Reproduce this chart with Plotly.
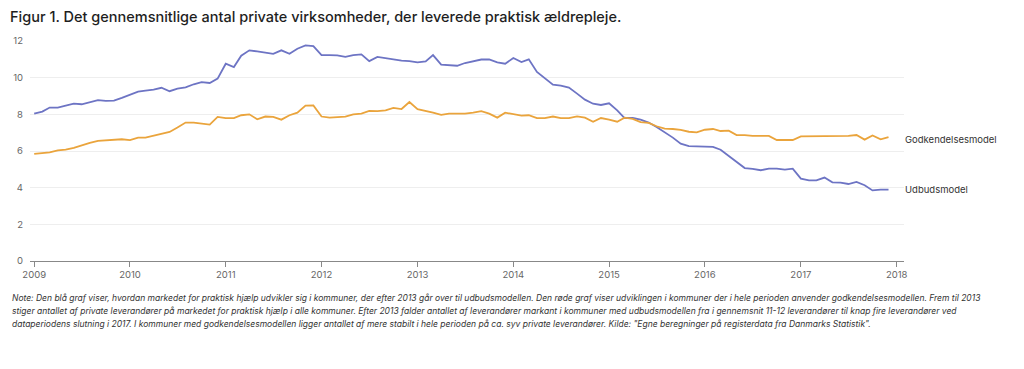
import pandas as pd
import plotly.graph_objects as go

dates = pd.date_range("2009-01-01", "2017-12-01", freq="MS")

udbud = [
    8.04, 8.15, 8.37, 8.37, 8.47, 8.58, 8.55, 8.67, 8.77, 8.73, 8.75, 8.90,
    9.05, 9.24, 9.29, 9.35, 9.45, 9.26, 9.40, 9.47, 9.64, 9.76, 9.71, 9.95,
    10.76, 10.58, 11.20, 11.49, 11.43, 11.38, 11.30, 11.49, 11.30, 11.58, 11.76, 11.72,
    11.23, 11.23, 11.22, 11.13, 11.23, 11.27, 10.90, 11.13, 11.05, 10.98, 10.93, 10.90,
    10.83, 10.89, 11.23, 10.71, 10.69, 10.65, 10.80, 10.90, 10.99, 10.99, 10.83, 10.76,
    11.07, 10.85, 11.00, 10.31, 9.95, 9.62, 9.56, 9.46, 9.13, 8.80, 8.58, 8.51,
    8.60, 8.22, 7.80, 7.80, 7.71, 7.55, 7.31, 7.04, 6.73, 6.40, 6.27, 6.25,
    6.22, 6.22, 6.07, 5.73, 5.42, 5.07, 5.02, 4.95, 5.04, 5.04, 4.98, 5.04,
    4.49, 4.40, 4.40, 4.55, 4.29, 4.27, 4.20, 4.31, 4.13, 3.85, 3.89, 3.89,
]

godkend = [
    5.84, 5.88, 5.93, 6.04, 6.08, 6.17, 6.32, 6.44, 6.55, 6.59, 6.61, 6.64,
    6.59, 6.73, 6.73, 6.84, 6.91, 7.04, 7.28, 7.55, 7.55, 7.51, 7.44, 7.86,
    7.79, 7.79, 7.95, 8.00, 7.73, 7.88, 7.86, 7.71, 7.95, 8.09, 8.48, 8.49,
    7.88, 7.82, 7.84, 7.88, 8.00, 8.04, 8.19, 8.17, 8.22, 8.35, 8.29, 8.67,
    8.28, 8.20, 8.09, 7.97, 8.04, 8.04, 8.04, 8.09, 8.17, 8.04, 7.82, 8.09,
    8.00, 7.93, 7.95, 7.79, 7.79, 7.88, 7.79, 7.79, 7.89, 7.82, 7.59, 7.80,
    7.71, 7.60, 7.82, 7.75, 7.58, 7.53, 7.35, 7.22, 7.20, 7.15, 7.05, 7.02,
    7.16, 7.20, 7.09, 7.11, 6.87, 6.87, 6.82, 6.82, 6.82, 6.60, 6.60, 6.60,
    6.80, 6.80, 6.80, 6.82, 6.82, 6.82, 6.82, 6.87, 6.62, 6.85, 6.64, 6.76,
]

series_names = ["Udbudsmodel", "Godkendelsesmodel"]
title_text = "Figur 1. Det gennemsnitlige antal private virksomheder, der leverede praktisk ældrepleje."
note_lines = [
    "Note: Den blå graf viser, hvordan markedet for praktisk hjælp udvikler sig i kommuner, der efter 2013 går over til udbudsmodellen. Den røde graf viser udviklingen i kommuner der i hele perioden anvender godkendelsesmodellen. Frem til 2013",
    "stiger antallet af private leverandører på markedet for praktisk hjælp i alle kommuner. Efter 2013 falder antallet af leverandører markant i kommuner med udbudsmodellen fra i gennemsnit 11-12 leverandører til knap fire leverandører ved",
    "dataperiodens slutning i 2017. I kommuner med godkendelsesmodellen ligger antallet af mere stabilt i hele perioden på ca. syv private leverandører. Kilde: \"Egne beregninger på registerdata fra Danmarks Statistik\".",
]
note_y = [-0.168, -0.227, -0.286]

BLUE = "#6d74c4"
ORANGE = "#eaa43c"
FONT = "Inter, Roboto, sans-serif"

fig = go.Figure()
fig.add_trace(go.Scatter(x=dates, y=udbud, mode="lines", name=series_names[0],
                         line=dict(color=BLUE, width=1.8), hoverinfo="x+y"))
fig.add_trace(go.Scatter(x=dates, y=godkend, mode="lines", name=series_names[1],
                         line=dict(color=ORANGE, width=1.8), hoverinfo="x+y"))

fig.add_annotation(x=dates[-1], y=godkend[-1], text=series_names[1], showarrow=False,
                   xanchor="left", yanchor="middle", xshift=14, yshift=-2,
                   font=dict(family=FONT, size=9.5, color="#333"))
fig.add_annotation(x=dates[-1], y=udbud[-1], text=series_names[0], showarrow=False,
                   xanchor="left", yanchor="middle", xshift=14,
                   font=dict(family=FONT, size=9.5, color="#333"))

for line, yy in zip(note_lines, note_y):
    fig.add_annotation(xref="paper", yref="paper", x=-0.0229, y=yy, xanchor="left", yanchor="middle",
                       align="left", showarrow=False, text="<i>" + line + "</i>",
                       font=dict(family=FONT, size=8.5, color="#333"))

# page body has an 8px margin, so the figure is shrunk and shifted accordingly
fig.update_layout(
    width=1016, height=361,
    margin=dict(l=22, r=120, t=33, b=108, autoexpand=False),
    paper_bgcolor="white", plot_bgcolor="white",
    showlegend=False,
    title=dict(text=title_text, x=0.002, xref="container", y=0.975, yref="container",
               xanchor="left", yanchor="middle",
               font=dict(family=FONT, size=14.5, color="#1e1e1e", weight=500)),
    font=dict(family=FONT),
)
fig.update_xaxes(
    range=["2008-12-16", "2018-01-29"], automargin=False,
    tickformat="%Y", dtick="M12", tick0="2009-01-01",
    showgrid=False, showline=True, linecolor="#888", linewidth=1,
    ticks="outside", ticklen=5, tickcolor="#888",
    tickfont=dict(family=FONT, size=9.5, color="#666"),
    zeroline=False,
)
fig.update_yaxes(
    range=[0, 12], dtick=2, showgrid=True, gridcolor="#eeeeee", gridwidth=1,
    zeroline=False, showline=False, ticks="", automargin=False,
    tickfont=dict(family=FONT, size=9.5, color="#666"),
    ticklabelstandoff=6,
)

fig.write_html("out.html")
